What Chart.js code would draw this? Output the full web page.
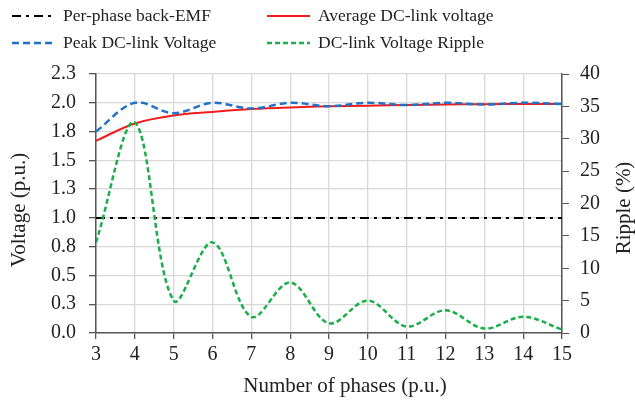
<!DOCTYPE html>
<html>
<head>
<meta charset="utf-8">
<script src="https://cdn.jsdelivr.net/npm/chart.js@4.4.0/dist/chart.umd.min.js"></script>
<style>
  html, body { margin: 0; padding: 0; background: #ffffff; }
  canvas { display: block; }
</style>
</head>
<body>
<canvas id="chart" width="635" height="400"></canvas>
<script>
// Number of phases on the x axis
const phases = [3, 4, 5, 6, 7, 8, 9, 10, 11, 12, 13, 14, 15];

// Voltages in p.u. (left axis)
const backEmf   = [1.0, 1.0, 1.0, 1.0, 1.0, 1.0, 1.0, 1.0, 1.0, 1.0, 1.0, 1.0, 1.0];
const peakDc    = [1.75, 2.0, 1.91, 2.0, 1.95, 2.0, 1.97, 2.0, 1.98, 2.0, 1.985, 2.0, 1.99];
const avgDc     = [1.67, 1.82, 1.89, 1.92, 1.945, 1.96, 1.97, 1.975, 1.98, 1.985, 1.988, 1.99, 1.99];

// Voltage ripple in % (right axis)
const ripple    = [14.0, 32.5, 5.0, 14.0, 2.5, 7.8, 1.5, 5.0, 1.0, 3.5, 0.7, 2.5, 0.55];

// Tick labels
const voltTickLabels   = ['0.0', '0.3', '0.5', '0.8', '1.0', '1.3', '1.5', '1.8', '2.0', '2.3'];
const rippleTickLabels = ['0', '5', '10', '15', '20', '25', '30', '35', '40'];

// Axis titles
const xTitle  = 'Number of phases (p.u.)';
const yTitle  = 'Voltage (p.u.)';
const y1Title = 'Ripple (%)';

const FONT = "'Liberation Serif', 'Times New Roman', serif";
const TEXT = '#222222';
const GRID = '#d8d8d8';
const AXIS = '#555555';
const TICK_SIZE = 20;
const TITLE_SIZE = 21;
const LEGEND_SIZE = 17.5;

const toPoints = (ys) => phases.map((x, i) => ({ x: x, y: ys[i] }));

// Two-column legend above the plot and the three axis titles
const annotations = {
  id: 'annotations',
  afterDraw(chart) {
    const ctx = chart.ctx;
    const ds = chart.data.datasets;
    const slots = [
      { i: 0, x: 12, y: 16 },
      { i: 2, x: 267, y: 16 },
      { i: 1, x: 12, y: 43 },
      { i: 3, x: 267, y: 43 }
    ];
    ctx.save();
    ctx.font = LEGEND_SIZE + 'px ' + FONT;
    ctx.textBaseline = 'middle';
    ctx.fillStyle = TEXT;
    slots.forEach(s => {
      const d = ds[s.i];
      ctx.save();
      ctx.strokeStyle = d.borderColor;
      ctx.lineWidth = d.borderWidth;
      ctx.setLineDash(d.borderDash || []);
      ctx.beginPath();
      ctx.moveTo(s.x, s.y);
      ctx.lineTo(s.x + 43, s.y);
      ctx.stroke();
      ctx.restore();
      ctx.fillText(d.label, s.x + 51, s.y);
    });

    ctx.font = TITLE_SIZE + 'px ' + FONT;
    ctx.textAlign = 'center';
    ctx.fillText(xTitle, 345, 386);

    ctx.save();
    ctx.translate(19, 210);
    ctx.rotate(-Math.PI / 2);
    ctx.fillText(yTitle, 0, 0);
    ctx.restore();

    ctx.save();
    ctx.translate(624, 208);
    ctx.rotate(-Math.PI / 2);
    ctx.fillText(y1Title, 0, 0);
    ctx.restore();

    ctx.restore();
  }
};

new Chart(document.getElementById('chart'), {
  type: 'line',
  data: {
    datasets: [
      {
        label: 'Per-phase back-EMF',
        data: toPoints(backEmf),
        yAxisID: 'y',
        borderColor: '#000000',
        borderWidth: 2,
        borderDash: [9, 5, 3, 5],
        tension: 0,
        order: 4
      },
      {
        label: 'Peak DC-link Voltage',
        data: toPoints(peakDc),
        yAxisID: 'y',
        borderColor: '#1f72c6',
        borderWidth: 2.5,
        borderDash: [7, 4],
        tension: 0.35,
        order: 2
      },
      {
        label: 'Average DC-link voltage',
        data: toPoints(avgDc),
        yAxisID: 'y',
        borderColor: '#f21c1c',
        borderWidth: 2,
        tension: 0.35,
        order: 3
      },
      {
        label: 'DC-link Voltage Ripple',
        data: toPoints(ripple),
        yAxisID: 'y1',
        borderColor: '#1aae48',
        borderWidth: 2.5,
        borderDash: [5, 3],
        tension: 0.35,
        order: 1
      }
    ]
  },
  options: {
    responsive: false,
    animation: false,
    devicePixelRatio: 1,
    elements: { point: { radius: 0, hoverRadius: 0 } },
    layout: { padding: { top: 74, left: 0, right: 0, bottom: 0 } },
    plugins: {
      legend: { display: false },
      tooltip: { enabled: false }
    },
    scales: {
      x: {
        type: 'linear',
        min: 3,
        max: 15,
        afterFit: (s) => { s.height = 67; },
        ticks: {
          stepSize: 1,
          color: TEXT,
          font: { family: FONT, size: TICK_SIZE },
          padding: 4,
          maxRotation: 0
        },
        grid: { color: GRID, lineWidth: 1.3, tickColor: AXIS, tickLength: 6 },
        border: { color: AXIS, width: 1.5 }
      },
      y: {
        position: 'left',
        min: 0,
        max: 2.25,
        afterFit: (s) => { s.width = 96; },
        ticks: {
          stepSize: 0.25,
          color: TEXT,
          font: { family: FONT, size: TICK_SIZE },
          padding: 13,
          callback: (v, i) => voltTickLabels[i]
        },
        grid: { color: GRID, lineWidth: 1.3, tickColor: AXIS, tickLength: 7 },
        border: { color: AXIS, width: 1.5 }
      },
      y1: {
        position: 'right',
        min: 0,
        max: 40,
        afterFit: (s) => { s.width = 73; },
        ticks: {
          stepSize: 5,
          color: TEXT,
          font: { family: FONT, size: TICK_SIZE },
          padding: 11,
          callback: (v, i) => rippleTickLabels[i]
        },
        grid: { drawOnChartArea: false, tickColor: AXIS, tickLength: 7 },
        border: { color: AXIS, width: 1.5 }
      }
    }
  },
  plugins: [annotations]
});
</script>
</body>
</html>
